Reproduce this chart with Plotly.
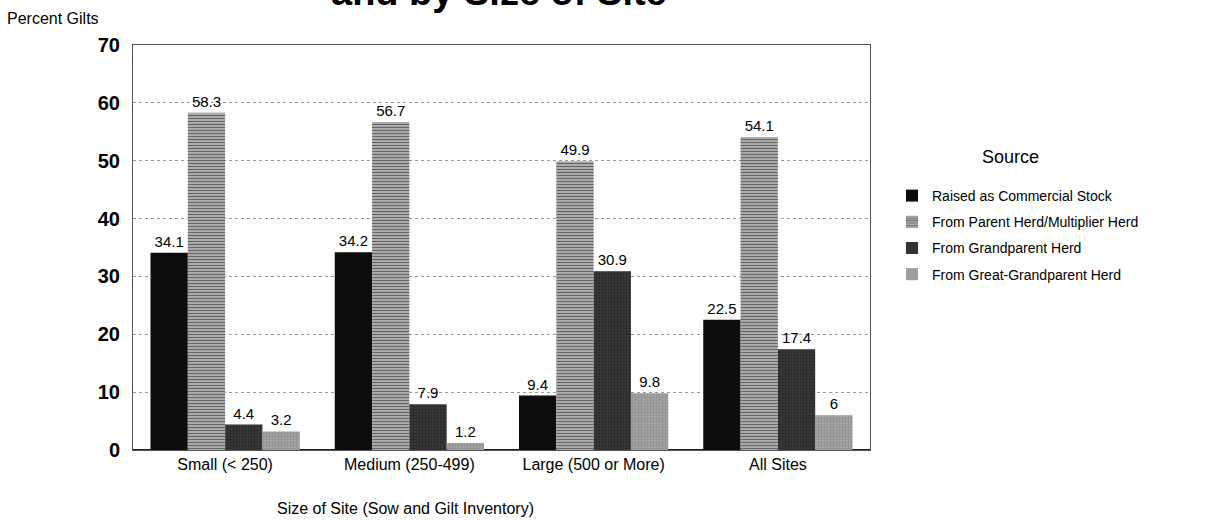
import plotly.graph_objects as go

# Gilt source by size of site

sites = ["Small (< 250)", "Medium (250-499)", "Large (500 or More)", "All Sites"]

commercial = [34.1, 34.2, 9.4, 22.5]
parent_herd = [58.3, 56.7, 49.9, 54.1]
grandparent = [4.4, 7.9, 30.9, 17.4]
great_grandparent = [3.2, 1.2, 9.8, 6]

series = [
    ("Raised as Commercial Stock", commercial, "#0d0d0d", "", "#0d0d0d"),
    ("From Parent Herd/Multiplier Herd", parent_herd, "#b8b8b8", "-", "#111111"),
    ("From Grandparent Herd", grandparent, "#3a3a3a", ".", "#151515"),
    ("From Great-Grandparent Herd", great_grandparent, "#a6a6a6", ".", "#777777"),
]

# plot box in pixels
L, R, T, B = 133, 870, 45, 450
W, H = R - L, B - T

fig = go.Figure()

for i, (name, values, color, shape, fg) in enumerate(series):
    fig.add_trace(go.Bar(
        x=sites,
        y=values,
        name=name,
        legendgroup=str(i),
        text=[str(v) for v in values],
        textposition="outside",
        cliponaxis=False,
        textfont=dict(size=15, color="black"),
        marker=dict(
            color=color,
            line=dict(width=0),
            pattern=dict(shape=shape, fgcolor=fg, bgcolor=color, size=3, solidity=0.45)
        )
    ))

fig.update_layout(
    width=1209,
    height=520,
    plot_bgcolor="white",
    paper_bgcolor="white",
    font=dict(family="Arial, Liberation Sans", color="black"),
    barmode="group",
    bargap=0.19,
    bargroupgap=0,
    margin=dict(l=L, r=1209 - R, t=T, b=520 - B),
    xaxis=dict(
        tickfont=dict(size=16),
        showline=True,
        linecolor="#555555",
        mirror=True,
        ticks=""
    ),
    yaxis=dict(
        range=[0, 70],
        dtick=10,
        tickfont=dict(size=20, weight="bold"),
        ticklabelstandoff=8,
        showgrid=True,
        gridcolor="#999999",
        griddash="dot",
        showline=True,
        linecolor="#555555",
        mirror=True,
        zeroline=True,
        zerolinecolor="#222222",
        zerolinewidth=2,
        ticks=""
    ),
    legend=dict(
        x=(892 - L) / W,
        y=(B - 180) / H,
        xanchor="left",
        yanchor="top",
        font=dict(size=14),
        tracegroupgap=5,
        itemwidth=30
    ),
    annotations=[
        dict(text="<b>and by Size of Site</b>", x=(499 - L) / W, y=1, xref="paper", yref="paper",
             xanchor="center", yanchor="bottom", yshift=30,
             showarrow=False, font=dict(size=38)),
        dict(text="Percent Gilts", x=(5 - L) / W, y=(B - 18) / H,
             xref="x domain", yref="y domain", xanchor="left", yanchor="middle",
             showarrow=False, font=dict(size=16)),
        dict(text="Size of Site (Sow and Gilt Inventory)", x=(405 - L) / W, y=(B - 508) / H,
             xref="x domain", yref="y domain", xanchor="center", yanchor="middle",
             showarrow=False, font=dict(size=16)),
        dict(text="Source", x=(1010 - L) / W, y=(B - 157) / H,
             xref="x domain", yref="y domain", xanchor="center", yanchor="middle",
             showarrow=False, font=dict(size=18))
    ]
)

fig.write_html("out.html", config={"displayModeBar": False},
               post_script="document.body.style.margin='0';")
